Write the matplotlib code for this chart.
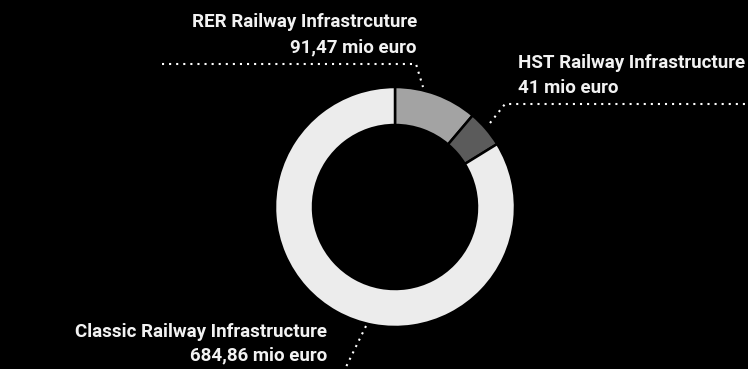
import numpy as np
import matplotlib.pyplot as plt

# Railway infrastructure budget (mio euro)
labels = ['RER Railway Infrastrcuture', 'HST Railway Infrastructure', 'Classic Railway Infrastructure']
values = [91.47, 41, 684.86]
value_labels = ['91,47 mio euro', '41 mio euro', '684,86 mio euro']
colors = ['#a3a3a3', '#5b5b5b', '#ececec']

W, H = 748, 369
fig = plt.figure(figsize=(W / 100, H / 100), dpi=100, facecolor='black')
ax = fig.add_axes([0, 0, 1, 1])
ax.set_facecolor('black')

cx, cy, r = 395, H - 207, 120
ax.pie(values, colors=colors, startangle=90, counterclock=False,
       center=(cx, cy), radius=r, frame=True,
       wedgeprops=dict(width=38, edgecolor='black', linewidth=1.8))
ax.set_xlim(0, W)
ax.set_ylim(0, H)
ax.axis('off')

font = ['Roboto', 'DejaVu Sans']
tkw = dict(color='#f2f2f2', fontsize=13.5, fontweight='bold', family=font)

# RER label
ax.text(417, H - 27, labels[0], ha='right', va='baseline', **tkw)
ax.text(417, H - 52, value_labels[0], ha='right', va='baseline', **tkw)
# HST label
ax.text(518, H - 68, labels[1], ha='left', va='baseline', **tkw)
ax.text(518, H - 93, value_labels[1], ha='left', va='baseline', **tkw)
# Classic label
ax.text(327, H - 337, labels[2], ha='right', va='baseline', **tkw)
ax.text(327, H - 360, value_labels[2], ha='right', va='baseline', **tkw)

lkw = dict(color='white', linestyle=(0, (1, 2.4)), linewidth=1.5)
ax.plot([162, 416, 423], [H - 64, H - 64, H - 87], **lkw)
ax.plot([490, 505, 748], [H - 123, H - 104, H - 104], **lkw)
ax.plot([366, 345], [H - 326, H - 369], **lkw)

fig.savefig('out.png', dpi=100, facecolor='black')
